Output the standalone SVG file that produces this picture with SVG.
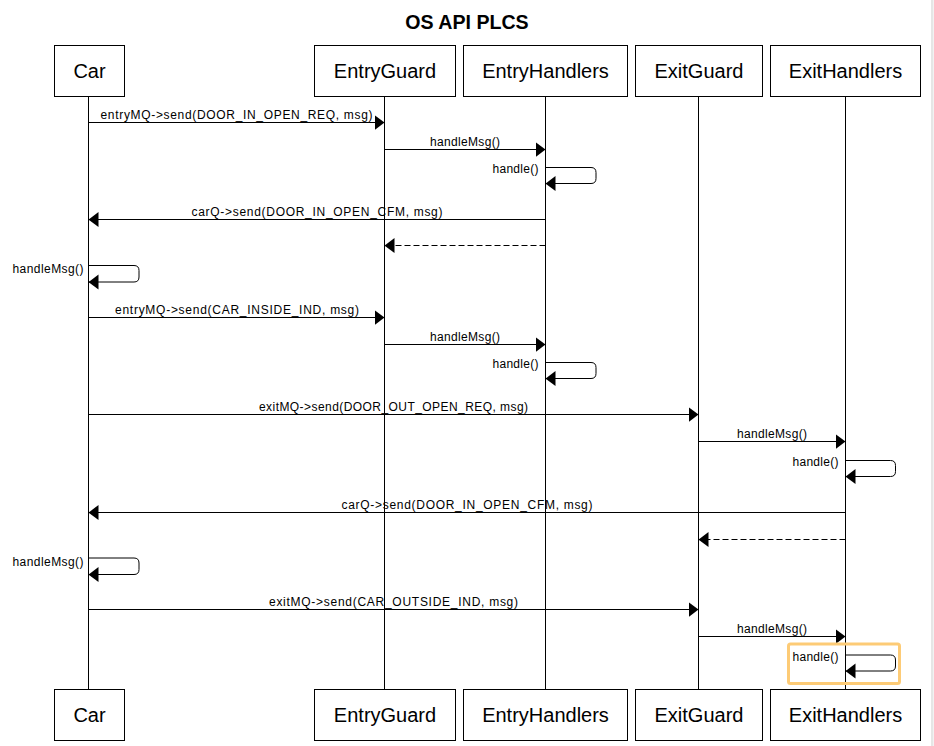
<svg xmlns="http://www.w3.org/2000/svg" width="934" height="746" viewBox="0 0 934 746">
<style>
.box{fill:#fff;stroke:#000;stroke-width:1}
.life{stroke:#000;stroke-width:1;fill:none}
.name{font-family:"Liberation Sans",Arial,sans-serif;font-size:20px;text-anchor:middle;fill:#000}
.title{font-family:"Liberation Sans",Arial,sans-serif;font-size:19.6px;font-weight:bold;text-anchor:middle;fill:#000}
.msg{stroke:#000;stroke-width:1;fill:none;marker-end:url(#arr)}
.dash{stroke-dasharray:6 3}
.lbl{font-family:"Liberation Sans",Arial,sans-serif;font-size:12px;fill:#000;text-anchor:middle}
.lbr{font-family:"Liberation Sans",Arial,sans-serif;font-size:12px;fill:#000;text-anchor:end}
</style>
<defs>
<marker id="arr" markerUnits="userSpaceOnUse" markerWidth="10" markerHeight="16" refX="10" refY="8" orient="auto">
<path d="M0,0.5 L10,8 L0,15.5 Z" fill="#000"/>
</marker>
</defs>
<rect x="0" y="0" width="934" height="746" fill="#fff"/>
<rect x="931" y="0" width="2.5" height="746" fill="#e6e6e6"/>
<text class="title" x="467" y="29">OS API PLCS</text>

<g id="car">
<line class="life" x1="88.5" y1="96.5" x2="88.5" y2="689.5"/>
<rect class="box" x="54.5" y="45.5" width="70" height="51"/>
<text class="name" x="89.5" y="78">Car</text>
<rect class="box" x="54.5" y="689.5" width="70" height="51"/>
<text class="name" x="89.5" y="722">Car</text>
</g>
<g id="entryguard">
<line class="life" x1="384.5" y1="96.5" x2="384.5" y2="689.5"/>
<rect class="box" x="314.5" y="45.5" width="141" height="51"/>
<text class="name" x="385" y="78">EntryGuard</text>
<rect class="box" x="314.5" y="689.5" width="141" height="51"/>
<text class="name" x="385" y="722">EntryGuard</text>
</g>
<g id="entryhandlers">
<line class="life" x1="545.5" y1="96.5" x2="545.5" y2="689.5"/>
<rect class="box" x="463.5" y="45.5" width="164" height="51"/>
<text class="name" x="545.5" y="78">EntryHandlers</text>
<rect class="box" x="463.5" y="689.5" width="164" height="51"/>
<text class="name" x="545.5" y="722">EntryHandlers</text>
</g>
<g id="exitguard">
<line class="life" x1="698.5" y1="96.5" x2="698.5" y2="689.5"/>
<rect class="box" x="635.5" y="45.5" width="127" height="51"/>
<text class="name" x="699" y="78">ExitGuard</text>
<rect class="box" x="635.5" y="689.5" width="127" height="51"/>
<text class="name" x="699" y="722">ExitGuard</text>
</g>
<g id="exithandlers">
<line class="life" x1="845.5" y1="96.5" x2="845.5" y2="689.5"/>
<rect class="box" x="770.5" y="45.5" width="150" height="51"/>
<text class="name" x="845.5" y="78">ExitHandlers</text>
<rect class="box" x="770.5" y="689.5" width="150" height="51"/>
<text class="name" x="845.5" y="722">ExitHandlers</text>
</g>

<g id="connectors">
<path class="msg" d="M88.5,122.5 H384.5"/>
<text class="lbl" x="236.5" y="119" textLength="272" lengthAdjust="spacing">entryMQ-&gt;send(DOOR_IN_OPEN_REQ, msg)</text>

<path class="msg" d="M384.5,149.5 H545.5"/>
<text class="lbl" x="465" y="146" textLength="70" lengthAdjust="spacing">handleMsg()</text>

<path class="msg" d="M545.5,167.5 H591 Q596,167.5 596,172.5 V178.5 Q596,183.5 591,183.5 H545.5"/>
<text class="lbr" x="538.5" y="173" textLength="46" lengthAdjust="spacing">handle()</text>

<path class="msg" d="M545.5,219.5 H88.5"/>
<text class="lbl" x="317" y="216" textLength="251" lengthAdjust="spacing">carQ-&gt;send(DOOR_IN_OPEN_CFM, msg)</text>

<path class="msg dash" d="M545.5,245.5 H384.5"/>

<path class="msg" d="M88.5,265.5 H134 Q139,265.5 139,270.5 V277 Q139,282 134,282 H88.5"/>
<text class="lbr" x="83.5" y="273" textLength="71" lengthAdjust="spacing">handleMsg()</text>

<path class="msg" d="M88.5,317.5 H384.5"/>
<text class="lbl" x="237" y="314" textLength="244" lengthAdjust="spacing">entryMQ-&gt;send(CAR_INSIDE_IND, msg)</text>

<path class="msg" d="M384.5,344.5 H545.5"/>
<text class="lbl" x="465" y="341" textLength="70" lengthAdjust="spacing">handleMsg()</text>

<path class="msg" d="M545.5,362.5 H591 Q596,362.5 596,367.5 V373.5 Q596,378.5 591,378.5 H545.5"/>
<text class="lbr" x="538.5" y="368" textLength="46" lengthAdjust="spacing">handle()</text>

<path class="msg" d="M88.5,414.5 H698.5"/>
<text class="lbl" x="393.5" y="411" textLength="269" lengthAdjust="spacing">exitMQ-&gt;send(DOOR_OUT_OPEN_REQ, msg)</text>

<path class="msg" d="M698.5,441.5 H845.5"/>
<text class="lbl" x="772" y="438" textLength="70" lengthAdjust="spacing">handleMsg()</text>

<path class="msg" d="M845.5,460.5 H890.5 Q895.5,460.5 895.5,465.5 V471.5 Q895.5,476.5 890.5,476.5 H845.5"/>
<text class="lbr" x="838.5" y="466" textLength="46" lengthAdjust="spacing">handle()</text>

<path class="msg" d="M845.5,512.5 H88.5"/>
<text class="lbl" x="467" y="509" textLength="251" lengthAdjust="spacing">carQ-&gt;send(DOOR_IN_OPEN_CFM, msg)</text>

<path class="msg dash" d="M845.5,539.5 H698.5"/>

<path class="msg" d="M88.5,558 H134 Q139,558 139,563 V569.5 Q139,574.5 134,574.5 H88.5"/>
<text class="lbr" x="83.5" y="565.5" textLength="71" lengthAdjust="spacing">handleMsg()</text>

<path class="msg" d="M88.5,609.5 H698.5"/>
<text class="lbl" x="393.5" y="606" textLength="249" lengthAdjust="spacing">exitMQ-&gt;send(CAR_OUTSIDE_IND, msg)</text>

<path class="msg" d="M698.5,636.5 H845.5"/>
<text class="lbl" x="772" y="633" textLength="70" lengthAdjust="spacing">handleMsg()</text>

<path class="msg" d="M845.5,655 H890.5 Q895.5,655 895.5,660 V666 Q895.5,671 890.5,671 H845.5"/>
<text class="lbr" x="838.5" y="660.5" textLength="46" lengthAdjust="spacing">handle()</text>
</g>

<rect id="highlight" x="788.5" y="644" width="111" height="39.5" rx="2" fill="none" stroke="#fdcb76" stroke-width="3"/>
</svg>
